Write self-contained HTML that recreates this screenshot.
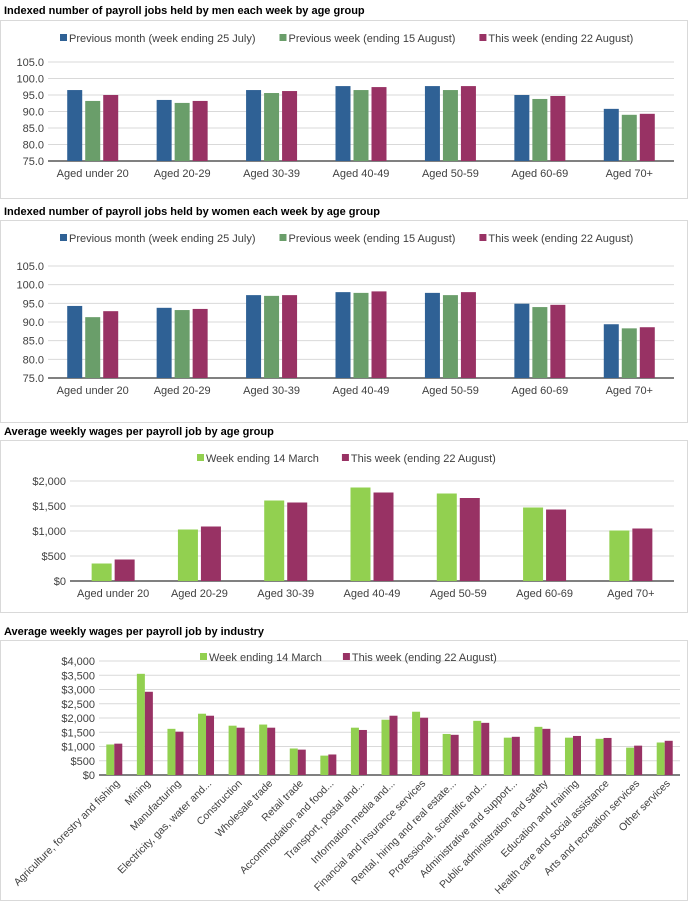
<!DOCTYPE html>
<html><head><meta charset="utf-8"><style>
body{margin:0;background:#fff;font-family:"Liberation Sans",sans-serif}
svg{display:block}
</style></head><body>
<svg id="s" width="692" height="904" xmlns="http://www.w3.org/2000/svg"></svg>
<script>
const ageCats=["Aged under 20","Aged 20-29","Aged 30-39","Aged 40-49","Aged 50-59","Aged 60-69","Aged 70+"];
const menPrevMonth=[96.5,93.5,96.5,97.7,97.7,95.0,90.8];
const menPrevWeek=[93.2,92.6,95.6,96.5,96.5,93.8,89.0];
const menThisWeek=[95.0,93.2,96.2,97.4,97.7,94.7,89.3];
const womenPrevMonth=[94.3,93.8,97.2,98.0,97.8,94.9,89.4];
const womenPrevWeek=[91.3,93.2,97.0,97.8,97.2,94.0,88.3];
const womenThisWeek=[92.9,93.5,97.2,98.2,98.0,94.6,88.6];
const wageAgeMarch=[350,1030,1610,1870,1750,1470,1010];
const wageAgeAug=[430,1090,1570,1770,1660,1430,1050];
const indCats=["Agriculture, forestry and fishing","Mining","Manufacturing","Electricity, gas, water and...","Construction","Wholesale trade","Retail trade","Accommodation and food...","Transport, postal and...","Information media and...","Financial and insurance services","Rental, hiring and real estate...","Professional, scientific and...","Administrative and support...","Public administration and safety","Education and training","Health care and social assistance","Arts and recreation services","Other services"];
const indMarch=[1070,3550,1620,2150,1730,1770,930,680,1660,1940,2220,1440,1900,1310,1690,1310,1270,960,1140];
const indAug=[1100,2920,1520,2080,1660,1660,890,720,1580,2080,2010,1410,1830,1340,1620,1370,1300,1030,1200];
const idxTicks=[75,80,85,90,95,100,105];
const wageTicks=[0,500,1000,1500,2000];
const indTicks=[0,500,1000,1500,2000,2500,3000,3500,4000];
const legIdx=["Previous month (week ending 25 July)","Previous week (ending 15 August)","This week (ending 22 August)"];
const legWage=["Week ending 14 March","This week (ending 22 August)"];

const S=document.getElementById('s');
const NS="http://www.w3.org/2000/svg";
function el(t,a,txt){const e=document.createElementNS(NS,t);for(const k in a)e.setAttribute(k,a[k]);if(txt!==undefined)e.textContent=txt;S.appendChild(e);return e;}
function money(v){return "$"+v.toLocaleString("en-US");}

function chart(o){
  const t=el('text',{x:4,y:o.titleY,'font-size':11,'font-weight':'bold',fill:'#000'},o.title);
  
  
  const b=el('rect',{x:0.5,y:o.boxY+0.5,width:687,height:o.boxH,fill:'#fff',stroke:'#d9d9d9'});
  
  
  const ymin=o.ticks[0],ymax=o.ticks[o.ticks.length-1];
  const Y=v=>o.y0-(v-ymin)/(ymax-ymin)*(o.y0-o.y1);
  o.ticks.forEach(tv=>{
    const g=el('line',{x1:o.x0,x2:o.x1,y1:Y(tv),y2:Y(tv),stroke:tv===ymin?'#000':'#d9d9d9','stroke-width':1});
    
    
    const l=el('text',{x:o.x0-4,y:Y(tv)+4,'font-size':11,'text-anchor':'end',fill:'#404040'},o.fmt(tv));
    
    
  });
  const n=o.cats.length,gw=(o.x1-o.x0)/n,ns=o.series.length;
  o.cats.forEach((c,i)=>{
    const cx=o.x0+gw*(i+0.5);
    o.series.forEach((s,j)=>{
      const x=cx-(ns*o.bw+(ns-1)*o.gap)/2+j*(o.bw+o.gap);
      const r=el('rect',{x:x,y:Y(s[i]),width:o.bw,height:o.y0-Y(s[i]),fill:o.colors[j]});
      
      
    });
    let lab;
    if(o.rot){lab=el('text',{x:cx+6,y:o.y0+9,'font-size':10.5,'text-anchor':'end',fill:'#404040',transform:`rotate(-45 ${cx+6} ${o.y0+9})`},c);}
    else lab=el('text',{x:cx,y:o.y0+16,'font-size':11,'text-anchor':'middle',fill:'#404040'},c);
    
    
  });
  let lx=o.legX;
  o.legend.forEach((L,j)=>{
    const sw=el('rect',{x:lx,y:o.legY-8,width:7,height:7,fill:o.colors[j]});
    
    
    const lt=el('text',{x:lx+9,y:o.legY,'font-size':11,fill:'#404040'},L);
    
    
    lx+=9+lt.getComputedTextLength()+o.legGap;
  });
}
const idxFmt=v=>v.toFixed(1);
chart({name:'men-chart',title:'Indexed number of payroll jobs held by men each week by age group',titleY:14,boxY:20,boxH:178,
 ticks:idxTicks,fmt:idxFmt,y0:161,y1:62,x0:48,x1:674,cats:ageCats,series:[menPrevMonth,menPrevWeek,menThisWeek],
 colors:['#2f6195','#6a9e6a','#983264'],bw:15,gap:3,legend:legIdx,legX:60,legY:42,legGap:24});
chart({name:'women-chart',title:'Indexed number of payroll jobs held by women each week by age group',titleY:215,boxY:220,boxH:202,
 ticks:idxTicks,fmt:idxFmt,y0:378,y1:266,x0:48,x1:674,cats:ageCats,series:[womenPrevMonth,womenPrevWeek,womenThisWeek],
 colors:['#2f6195','#6a9e6a','#983264'],bw:15,gap:3,legend:legIdx,legX:60,legY:242,legGap:24});
chart({name:'wage-age-chart',title:'Average weekly wages per payroll job by age group',titleY:435,boxY:440,boxH:172,
 ticks:wageTicks,fmt:money,y0:581,y1:481,x0:70,x1:674,cats:ageCats,series:[wageAgeMarch,wageAgeAug],
 colors:['#92d050','#983264'],bw:20,gap:3,legend:legWage,legX:197,legY:462,legGap:23});
chart({name:'wage-industry-chart',title:'Average weekly wages per payroll job by industry',titleY:635,boxY:640,boxH:260,
 ticks:indTicks,fmt:money,y0:775,y1:661,x0:99,x1:680,cats:indCats,series:[indMarch,indAug],
 colors:['#92d050','#983264'],bw:8,gap:0,legend:legWage,legX:200,legY:661,legGap:21,rot:true});
</script>
</body></html>
